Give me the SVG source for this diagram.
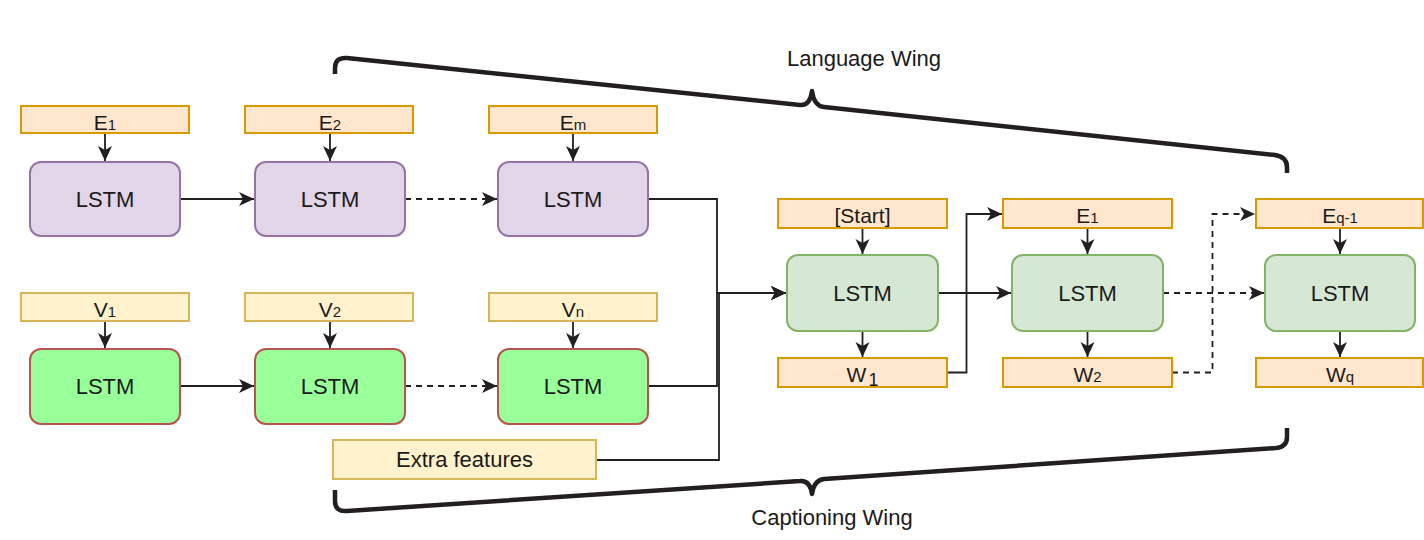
<svg xmlns="http://www.w3.org/2000/svg" width="1424" height="540" viewBox="0 0 1424 540">
<style>
text{font-family:"Liberation Sans",Arial,Helvetica,sans-serif;fill:#1a1a1a;text-anchor:middle}
.lbl{font-size:21px}
.sub{font-size:15px}
.big{font-size:22px}
.eb{fill:#ffe6cc;stroke:#d79b00;stroke-width:2}
.vb{fill:#fff2cc;stroke:#d6b656;stroke-width:2}
.lp{fill:#e1d5e7;stroke:#9673a6;stroke-width:2}
.lr{fill:#99ff99;stroke:#b85450;stroke-width:2}
.lg{fill:#d5e8d4;stroke:#82b366;stroke-width:2}
.c{fill:none;stroke:#231f20;stroke-width:1.8}
.d{stroke-dasharray:6 5}
.a{marker-end:url(#arr)}
.br{fill:none;stroke:#231f20;stroke-width:4.5;stroke-linejoin:round}
</style>
<defs>
<marker id="arr" markerUnits="userSpaceOnUse" markerWidth="16" markerHeight="16" viewBox="0 0 16 16" refX="15" refY="8" orient="auto">
<path d="M0,1 L15,8 L0,15 L4,8 Z" fill="#231f20"/>
</marker>
</defs>

<g id="connectors">
<path class="c a" d="M105,134 V161"/>
<path class="c a" d="M330,134 V161"/>
<path class="c a" d="M573,134 V161"/>
<path class="c a" d="M180,199 H254"/>
<path class="c d a" d="M405,199 H497"/>
<path class="c a" d="M105,321 V348"/>
<path class="c a" d="M330,321 V348"/>
<path class="c a" d="M573,321 V348"/>
<path class="c a" d="M180,386 H254"/>
<path class="c d a" d="M405,386 H497"/>
<path class="c a" d="M648,199 H717 V293 H786"/>
<path class="c a" d="M648,386 H717 V293 H786"/>
<path class="c a" d="M596,460 H719 V293 H786"/>
<path class="c a" d="M862.5,228 V254"/>
<path class="c a" d="M862.5,331 V357"/>
<path class="c a" d="M938,293 H1011"/>
<path class="c a" d="M947,372.5 H966.5 V214 H1002"/>
<path class="c a" d="M1087.5,228 V254"/>
<path class="c a" d="M1087.5,331 V357"/>
<path class="c d a" d="M1163,293 H1264"/>
<path class="c d a" d="M1172,372.5 H1212.5 V214 H1255"/>
<path class="c a" d="M1340,228 V254"/>
<path class="c a" d="M1340,331 V357"/>
</g>

<g id="lang-brace">
<path class="br" d="M335,74 L335,68 Q335,57 347,58 L800,105 Q810,106 812,91 Q814,106 824,107 L1275,155 Q1287,157 1287,167 L1287,173"/>
<text class="big" x="864" y="66">Language Wing</text>
</g>
<g id="cap-brace">
<path class="br" d="M335,490 L335,501 Q335,512 347,511 L800,481 Q810,480 812,494 Q814,480 824,479 L1276,448 Q1287,447 1287,437 L1287,428"/>
<text class="big" x="832" y="525">Captioning Wing</text>
</g>

<g id="e1"><rect class="eb" x="21" y="106" width="168" height="27"/><text class="lbl" x="105" y="130">E<tspan class="sub">1</tspan></text></g>
<g id="e2"><rect class="eb" x="245" y="106" width="168" height="27"/><text class="lbl" x="330" y="130">E<tspan class="sub">2</tspan></text></g>
<g id="em"><rect class="eb" x="489" y="106" width="168" height="27"/><text class="lbl" x="573" y="130">E<tspan class="sub">m</tspan></text></g>

<g id="lstm-e1"><rect class="lp" x="30" y="162" width="150" height="74" rx="11"/><text class="big" x="105" y="207">LSTM</text></g>
<g id="lstm-e2"><rect class="lp" x="255" y="162" width="150" height="74" rx="11"/><text class="big" x="330" y="207">LSTM</text></g>
<g id="lstm-em"><rect class="lp" x="498" y="162" width="150" height="74" rx="11"/><text class="big" x="573" y="207">LSTM</text></g>

<g id="v1"><rect class="vb" x="21" y="293" width="168" height="28"/><text class="lbl" x="105" y="317">V<tspan class="sub">1</tspan></text></g>
<g id="v2"><rect class="vb" x="245" y="293" width="168" height="28"/><text class="lbl" x="330" y="317">V<tspan class="sub">2</tspan></text></g>
<g id="vn"><rect class="vb" x="489" y="293" width="168" height="28"/><text class="lbl" x="573" y="317">V<tspan class="sub">n</tspan></text></g>

<g id="lstm-v1"><rect class="lr" x="30" y="349" width="150" height="75" rx="11"/><text class="big" x="105" y="394">LSTM</text></g>
<g id="lstm-v2"><rect class="lr" x="255" y="349" width="150" height="75" rx="11"/><text class="big" x="330" y="394">LSTM</text></g>
<g id="lstm-vn"><rect class="lr" x="498" y="349" width="150" height="75" rx="11"/><text class="big" x="573" y="394">LSTM</text></g>

<g id="extra"><rect class="vb" x="333" y="440" width="263" height="39"/><text class="big" x="464.5" y="467">Extra features</text></g>

<g id="start"><rect class="eb" x="778" y="199" width="169" height="29"/><text class="lbl" x="862.5" y="223">[Start]</text></g>
<g id="lstm-c1"><rect class="lg" x="787" y="255" width="151" height="76" rx="11"/><text class="big" x="862.5" y="301">LSTM</text></g>
<g id="w1"><rect class="eb" x="778" y="358" width="169" height="29"/><text class="lbl" x="862.5" y="382">W<tspan font-size="18" dx="2" dy="4">1</tspan></text></g>

<g id="ce1"><rect class="eb" x="1003" y="199" width="169" height="29"/><text class="lbl" x="1087.5" y="223">E<tspan class="sub">1</tspan></text></g>
<g id="lstm-c2"><rect class="lg" x="1012" y="255" width="151" height="76" rx="11"/><text class="big" x="1087.5" y="301">LSTM</text></g>
<g id="w2"><rect class="eb" x="1003" y="358" width="169" height="29"/><text class="lbl" x="1087.5" y="382">W<tspan class="sub">2</tspan></text></g>

<g id="eq1"><rect class="eb" x="1256" y="199" width="167" height="29"/><text class="lbl" x="1340" y="223">E<tspan class="sub">q-1</tspan></text></g>
<g id="lstm-c3"><rect class="lg" x="1265" y="255" width="150" height="76" rx="11"/><text class="big" x="1340" y="301">LSTM</text></g>
<g id="wq"><rect class="eb" x="1256" y="358" width="167" height="29"/><text class="lbl" x="1340" y="382">W<tspan class="sub">q</tspan></text></g>
</svg>
